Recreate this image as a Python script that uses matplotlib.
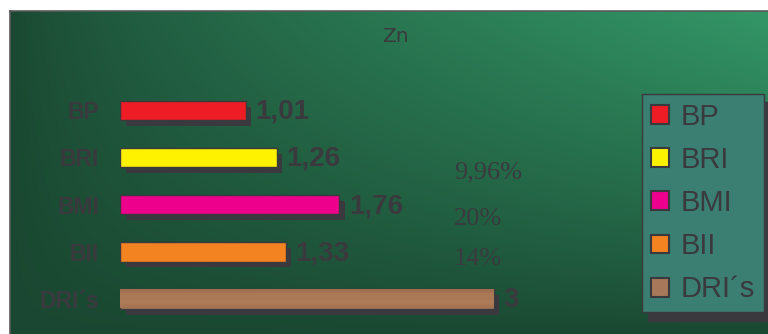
import numpy as np
import matplotlib
matplotlib.use("Agg")
import matplotlib.pyplot as plt
import matplotlib.patheffects as pe
from matplotlib.patches import Patch

# data
categories = ["BP", "BRI", "BMI", "BII", "DRI´s"]
values = [1.01, 1.26, 1.76, 1.33, 3]
value_labels = ["1,01", "1,26", "1,76", "1,33", "3"]
bar_colors = ["#ee1c25", "#fff200", "#ec008c", "#f38221", "#a8785a"]
pct_labels = ["9,96%", "20%", "14%"]
pct_rows = [1.31, 2.3, 3.15]
title = "Zn"

TXT = "#3a3a3e"
W, H = 768, 334
fig = plt.figure(figsize=(W / 100, H / 100), dpi=100, facecolor="white")

# green gradient panel
bg = fig.add_axes([10 / W, 0, 758 / W, 323 / H])
dark = np.array([26, 71, 49]) / 255
light = np.array([51, 150, 103]) / 255
xf = np.linspace(0, 1, 300)[None, :]
yf = np.linspace(0, 1, 150)[:, None]
f = (xf ** 0.7) * (1 - yf) ** 0.8
img = dark[None, None, :] + (light - dark)[None, None, :] * f[:, :, None]
bg.imshow(img, aspect="auto", extent=(0, 1, 0, 1))
bg.set_xticks([]); bg.set_yticks([])
for s in ("right", "bottom"):
    bg.spines[s].set_visible(False)
for s in ("top", "left"):
    bg.spines[s].set_color("#5a5a5a")
    bg.spines[s].set_linewidth(1.2)
bg.text(0.509, 0.92, title, transform=bg.transAxes, ha="center", va="center",
        fontsize=14.5, color=TXT, family="DejaVu Sans")

# bars
ax = fig.add_axes([120 / W, 1 - 322.6 / H, 622.5 / W, 235.9 / H])
ax.patch.set_visible(False)
y = np.arange(len(categories))
shadow = [pe.SimplePatchShadow(offset=(4, -4.3), shadow_rgbFace=TXT, alpha=1.0), pe.Normal()]
bars = ax.barh(y, values, height=0.41, color=bar_colors, edgecolor=TXT, linewidth=1.0)
for b in bars:
    b.set_path_effects(shadow)

# wood look on DRI bar
wb = bars[-1]
wood = np.array([[0.62, 0.43, 0.31], [0.69, 0.49, 0.35], [0.66, 0.46, 0.33],
                 [0.70, 0.50, 0.36], [0.64, 0.45, 0.32]])
wood_img = np.repeat(wood[:, None, :], 2, axis=1)
wim = ax.imshow(wood_img, aspect="auto", extent=(0, values[-1], y[-1] + 0.2, y[-1] - 0.2),
                interpolation="bicubic", zorder=2.5)
wim.set_clip_path(wb)

ax.set_xlim(0, 5)
ax.set_ylim(len(categories) - 0.5, -0.5)
ax.set_xticks([])
ax.set_yticks(y)
ax.set_yticklabels(categories, fontsize=16.5, fontweight="bold", color=TXT,
                   family="Liberation Sans")
ax.tick_params(axis="y", length=0, pad=15)
for s in ax.spines.values():
    s.set_visible(False)

for yi, v, lab in zip(y, values, value_labels):
    ax.annotate(lab, (v, yi), xytext=(7, -1), textcoords="offset points",
                ha="left", va="center", fontsize=20, fontweight="bold",
                color=TXT, family="Liberation Sans", zorder=4)

for r, lab in zip(pct_rows, pct_labels):
    ax.text(2.68, r, lab, ha="left", va="center", fontsize=19, color=TXT,
            family="Liberation Serif")

handles = [Patch(facecolor=c, edgecolor=TXT, linewidth=1.5) for c in bar_colors]
leg = fig.legend(handles, categories, loc="upper left",
                 bbox_to_anchor=(642 / W, 1 - 94 / H), frameon=True,
                 fancybox=False, facecolor="#3b7e72", edgecolor="#3a3a3e",
                 shadow={"ox": 4, "oy": -6, "color": TXT, "alpha": 1},
                 prop={"family": "Liberation Sans", "size": 21},
                 handlelength=0.62, handleheight=0.62, handletextpad=0.42,
                 labelspacing=0.52, borderpad=0.3, borderaxespad=0)
leg.get_frame().set_alpha(1)
for t in leg.get_texts():
    t.set_color(TXT)

fig.savefig("out.png", dpi=100)
